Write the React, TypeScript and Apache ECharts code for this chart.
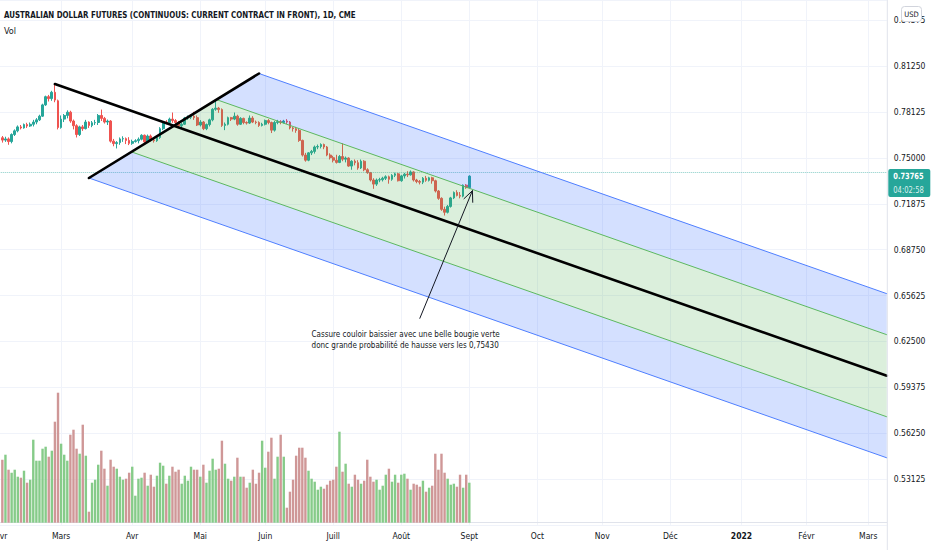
import React, { useEffect, useRef } from 'react';
import * as echarts from 'echarts';

const FONT = "'Liberation Sans Narrow', 'DejaVu Sans Condensed', 'Arial Narrow', Roboto, sans-serif";
const TEXT = '#131722';
const UP = '#26a69a';
const DOWN = '#ef5350';
const VOL_UP = '#86cb89';
const VOL_DOWN = '#cf9797';

const title = 'AUSTRALIAN DOLLAR FUTURES (CONTINUOUS: CURRENT CONTRACT IN FRONT), 1D, CME';
const firstSession = '2021-02-01';
const lastSession = '2022-03-09';
const firstCandle = '2021-02-02';
const monthLabels = ['Janv', 'Févr', 'Mars', 'Avr', 'Mai', 'Juin', 'Juill', 'Août', 'Sept', 'Oct', 'Nov', 'Déc'];

const priceMin = 0.5;
const priceMax = 0.85769;
const priceStep = 0.03125;
const lastPrice = 0.73765;
const countdown = '04:02:58';
const volumeMax = 140;

// Andrews' pitchfork anchors (date, price)
const pitchforkHandle: [string, number] = ['2021-02-25', 0.80044];
const pitchforkTop: [string, number] = ['2021-05-28', 0.80759];
const pitchforkBottom: [string, number] = ['2021-03-12', 0.73637];
// annotation
const arrowFrom: [string, number] = ['2021-08-10', 0.64074];
const arrowTo: [string, number] = ['2021-09-02', 0.72771];
const noteAnchor: [string, number] = ['2021-06-22', 0.63359];
const noteLines = [
  'Cassure couloir baissier avec une belle bougie verte',
  'donc grande probabilité de hausse vers les 0,75430',
];

// [open, close, low, high], daily from 2021-02-02
const ohlc: number[][] = [
  [0.7638, 0.7622, 0.7605, 0.7650], [0.7622, 0.7630, 0.7610, 0.7645], [0.7630, 0.7612, 0.7590, 0.7640],
  [0.7612, 0.7660, 0.7600, 0.7668], [0.7660, 0.7685, 0.7650, 0.7695], [0.7685, 0.7712, 0.7675, 0.7722],
  [0.7712, 0.7705, 0.7695, 0.7725], [0.7705, 0.7728, 0.7700, 0.7735], [0.7728, 0.7718, 0.7705, 0.7740],
  [0.7718, 0.7730, 0.7712, 0.7742], [0.7730, 0.7745, 0.7715, 0.7760], [0.7745, 0.7760, 0.7730, 0.7772],
  [0.7760, 0.7785, 0.7752, 0.7795], [0.7785, 0.7862, 0.7780, 0.7870], [0.7862, 0.7918, 0.7855, 0.7925],
  [0.7918, 0.7905, 0.7885, 0.7930], [0.7905, 0.7948, 0.7890, 0.7958], [0.7948, 0.7895, 0.7880, 0.8002],
  [0.7890, 0.7708, 0.7695, 0.7898], [0.7708, 0.7765, 0.7700, 0.7790], [0.7765, 0.7790, 0.7745, 0.7800],
  [0.7790, 0.7812, 0.7770, 0.7825], [0.7812, 0.7752, 0.7740, 0.7822], [0.7752, 0.7720, 0.7695, 0.7762],
  [0.7720, 0.7660, 0.7640, 0.7730], [0.7660, 0.7712, 0.7650, 0.7720], [0.7712, 0.7700, 0.7685, 0.7725],
  [0.7700, 0.7745, 0.7695, 0.7760], [0.7745, 0.7722, 0.7705, 0.7750], [0.7722, 0.7740, 0.7710, 0.7752],
  [0.7740, 0.7742, 0.7725, 0.7760], [0.7742, 0.7790, 0.7725, 0.7800], [0.7790, 0.7770, 0.7752, 0.7830],
  [0.7770, 0.7745, 0.7735, 0.7780], [0.7745, 0.7752, 0.7725, 0.7762], [0.7752, 0.7615, 0.7605, 0.7758],
  [0.7615, 0.7598, 0.7580, 0.7630], [0.7598, 0.7605, 0.7565, 0.7615], [0.7605, 0.7630, 0.7590, 0.7640],
  [0.7630, 0.7632, 0.7610, 0.7648], [0.7632, 0.7620, 0.7595, 0.7640], [0.7620, 0.7600, 0.7588, 0.7642],
  [0.7600, 0.7612, 0.7590, 0.7625], [0.7612, 0.7618, 0.7605, 0.7628], [0.7618, 0.7628, 0.7600, 0.7640],
  [0.7628, 0.7655, 0.7620, 0.7662], [0.7655, 0.7610, 0.7600, 0.7660], [0.7610, 0.7650, 0.7605, 0.7660],
  [0.7650, 0.7622, 0.7612, 0.7660], [0.7622, 0.7618, 0.7605, 0.7635], [0.7618, 0.7640, 0.7610, 0.7650],
  [0.7640, 0.7700, 0.7630, 0.7710], [0.7700, 0.7745, 0.7690, 0.7752], [0.7745, 0.7742, 0.7730, 0.7758],
  [0.7742, 0.7765, 0.7732, 0.7775], [0.7765, 0.7755, 0.7740, 0.7810], [0.7755, 0.7742, 0.7730, 0.7765],
  [0.7742, 0.7720, 0.7710, 0.7752], [0.7720, 0.7730, 0.7705, 0.7740], [0.7730, 0.7772, 0.7725, 0.7780],
  [0.7772, 0.7778, 0.7760, 0.7790], [0.7778, 0.7785, 0.7765, 0.7795], [0.7785, 0.7775, 0.7760, 0.7815],
  [0.7775, 0.7725, 0.7718, 0.7790], [0.7725, 0.7745, 0.7715, 0.7758], [0.7745, 0.7700, 0.7690, 0.7752],
  [0.7700, 0.7728, 0.7690, 0.7735], [0.7728, 0.7760, 0.7715, 0.7768], [0.7760, 0.7832, 0.7750, 0.7840],
  [0.7832, 0.7840, 0.7822, 0.7890], [0.7840, 0.7830, 0.7808, 0.7848], [0.7830, 0.7722, 0.7712, 0.7838],
  [0.7722, 0.7730, 0.7690, 0.7742], [0.7730, 0.7775, 0.7722, 0.7782], [0.7775, 0.7765, 0.7752, 0.7780],
  [0.7765, 0.7785, 0.7758, 0.7810], [0.7785, 0.7730, 0.7720, 0.7795], [0.7730, 0.7770, 0.7725, 0.7778],
  [0.7770, 0.7742, 0.7730, 0.7775], [0.7742, 0.7738, 0.7728, 0.7750], [0.7738, 0.7772, 0.7732, 0.7790],
  [0.7772, 0.7745, 0.7738, 0.7785], [0.7745, 0.7742, 0.7730, 0.7755], [0.7742, 0.7722, 0.7712, 0.7750],
  [0.7722, 0.7730, 0.7715, 0.7740], [0.7730, 0.7755, 0.7722, 0.7762], [0.7755, 0.7742, 0.7730, 0.7765],
  [0.7742, 0.7690, 0.7670, 0.7748], [0.7690, 0.7742, 0.7680, 0.7752], [0.7742, 0.7748, 0.7730, 0.7760],
  [0.7748, 0.7742, 0.7730, 0.7758], [0.7742, 0.7752, 0.7735, 0.7760], [0.7752, 0.7745, 0.7732, 0.7765],
  [0.7745, 0.7705, 0.7695, 0.7752], [0.7705, 0.7700, 0.7680, 0.7712], [0.7700, 0.7688, 0.7672, 0.7712],
  [0.7688, 0.7620, 0.7610, 0.7700], [0.7620, 0.7520, 0.7510, 0.7625], [0.7520, 0.7485, 0.7475, 0.7535],
  [0.7485, 0.7535, 0.7478, 0.7540], [0.7535, 0.7545, 0.7520, 0.7555], [0.7545, 0.7575, 0.7530, 0.7585],
  [0.7575, 0.7578, 0.7560, 0.7592], [0.7578, 0.7592, 0.7565, 0.7600], [0.7592, 0.7575, 0.7560, 0.7598],
  [0.7575, 0.7520, 0.7512, 0.7582], [0.7520, 0.7502, 0.7490, 0.7532], [0.7502, 0.7485, 0.7470, 0.7515],
  [0.7485, 0.7470, 0.7462, 0.7522], [0.7470, 0.7510, 0.7465, 0.7520], [0.7510, 0.7492, 0.7478, 0.7600],
  [0.7492, 0.7500, 0.7470, 0.7510], [0.7500, 0.7445, 0.7440, 0.7505], [0.7445, 0.7478, 0.7420, 0.7485],
  [0.7478, 0.7468, 0.7450, 0.7490], [0.7468, 0.7432, 0.7420, 0.7485], [0.7432, 0.7478, 0.7425, 0.7490],
  [0.7478, 0.7420, 0.7410, 0.7485], [0.7420, 0.7400, 0.7392, 0.7430], [0.7400, 0.7350, 0.7340, 0.7405],
  [0.7350, 0.7322, 0.7290, 0.7362], [0.7322, 0.7350, 0.7310, 0.7360], [0.7350, 0.7352, 0.7335, 0.7365],
  [0.7352, 0.7362, 0.7340, 0.7372], [0.7362, 0.7372, 0.7350, 0.7382], [0.7372, 0.7355, 0.7325, 0.7380],
  [0.7355, 0.7382, 0.7345, 0.7390], [0.7382, 0.7392, 0.7370, 0.7400], [0.7392, 0.7345, 0.7340, 0.7398],
  [0.7345, 0.7378, 0.7338, 0.7385], [0.7378, 0.7390, 0.7360, 0.7398], [0.7390, 0.7385, 0.7370, 0.7410],
  [0.7385, 0.7405, 0.7380, 0.7415], [0.7405, 0.7350, 0.7340, 0.7410], [0.7350, 0.7340, 0.7328, 0.7358],
  [0.7340, 0.7335, 0.7320, 0.7350], [0.7335, 0.7362, 0.7322, 0.7370], [0.7362, 0.7348, 0.7338, 0.7378],
  [0.7348, 0.7365, 0.7340, 0.7372], [0.7365, 0.7345, 0.7325, 0.7372], [0.7345, 0.7275, 0.7265, 0.7352],
  [0.7275, 0.7225, 0.7215, 0.7282], [0.7225, 0.7150, 0.7140, 0.7232], [0.7150, 0.7130, 0.7108, 0.7168],
  [0.7130, 0.7170, 0.7122, 0.7180], [0.7170, 0.7228, 0.7162, 0.7235], [0.7228, 0.7265, 0.7220, 0.7272],
  [0.7265, 0.7245, 0.7238, 0.7280], [0.7245, 0.7240, 0.7225, 0.7268], [0.7240, 0.7315, 0.7232, 0.7320],
  [0.7315, 0.7298, 0.7290, 0.7322], [0.7298, 0.73765, 0.7295, 0.7382],
];

// daily volume (relative units), from 2021-02-02
const volume: number[] = [
  63, 68, 53, 50, 53, 46, 45, 52, 40, 43,
  83, 62, 62, 74, 76, 66, 72, 101, 130, 79,
  68, 62, 88, 93, 74, 69, 98, 67, 11, 40,
  43, 58, 72, 54, 37, 63, 56, 54, 46, 43,
  44, 50, 56, 27, 44, 45, 50, 37, 48, 36, 47,
  60, 57, 39, 47, 56, 51, 53, 39, 47, 42,
  56, 53, 53, 46, 58, 40, 52, 64, 53, 54,
  82, 59, 44, 42, 46, 65, 46, 46, 35, 40,
  53, 39, 50, 82, 55, 71, 85, 44, 66, 88,
  66, 15, 31, 43, 67, 75, 75, 65, 52, 44, 41,
  33, 36, 34, 38, 42, 43, 56, 91, 51, 59,
  39, 36, 48, 43, 39, 42, 63, 46, 41, 43,
  33, 37, 48, 54, 41, 48, 40, 48, 49, 44, 33,
  39, 38, 36, 42, 31, 35, 37, 69, 53, 69,
  50, 44, 38, 39, 36, 48, 35, 48, 40,
];

function buildSessions(from: string, to: string): string[] {
  const out: string[] = [];
  const d = new Date(from + 'T00:00:00Z');
  const end = new Date(to + 'T00:00:00Z');
  while (d.getTime() <= end.getTime()) {
    const w = d.getUTCDay();
    if (w !== 0 && w !== 6) out.push(d.toISOString().slice(0, 10));
    d.setUTCDate(d.getUTCDate() + 1);
  }
  return out;
}

const sessions = buildSessions(firstSession, lastSession);
const tickLabel: Record<string, string> = {};
sessions.forEach((d, i) => {
  if (i === 0 || d.slice(5, 7) !== sessions[i - 1].slice(5, 7)) {
    const m = Number(d.slice(5, 7)) - 1;
    tickLabel[d] = m === 0 ? `{y|${d.slice(0, 4)}}` : monthLabels[m];
  }
});
const candleOffset = sessions.indexOf(firstCandle);
const candleData = sessions.map((_, i) => {
  const k = i - candleOffset;
  return k >= 0 && k < ohlc.length ? ohlc[k] : ['-', '-', '-', '-'];
});
const volumeData = sessions.map((_, i) => {
  const k = i - candleOffset;
  if (k < 0 || k >= volume.length) return '-';
  const up = ohlc[k][1] >= ohlc[k][0];
  return { value: volume[k], itemStyle: { color: up ? VOL_UP : VOL_DOWN } };
});

const GRID_LEFT = -0.74;
const GRID_RIGHT = 45.2;
const W = 932;
const H = 550;
const AXIS_FONT = 8.5;

function renderDrawings(params: any, api: any) {
  const cs = params.coordSys;
  const xR = cs.x + cs.width;
  const pt = (a: [string, number]) => api.coord([sessions.indexOf(a[0]), a[1]]);
  const p1 = pt(pitchforkHandle);
  const p2 = pt(pitchforkTop);
  const p3 = pt(pitchforkBottom);
  const m = [(p2[0] + p3[0]) / 2, (p2[1] + p3[1]) / 2];
  const s = (m[1] - p1[1]) / (m[0] - p1[0]);
  const q2 = [(m[0] + p2[0]) / 2, (m[1] + p2[1]) / 2];
  const q3 = [(m[0] + p3[0]) / 2, (m[1] + p3[1]) / 2];
  const ext = (p: number[]) => [xR, p[1] + s * (xR - p[0])];
  const line = (a: number[], b: number[], stroke: string, lineWidth: number) => ({
    type: 'line',
    shape: { x1: a[0], y1: a[1], x2: b[0], y2: b[1] },
    style: { stroke, lineWidth, lineCap: 'round' },
  });
  const poly = (points: number[][], fill: string) => ({ type: 'polygon', shape: { points }, style: { fill } });

  const a0 = pt(arrowFrom);
  const a1 = pt(arrowTo);
  const dx = a1[0] - a0[0];
  const dy = a1[1] - a0[1];
  const len = Math.sqrt(dx * dx + dy * dy);
  const ux = -dx / len;
  const uy = -dy / len;
  const ang = 0.42;
  const wl = 12;
  const wing = (sgn: number) => [
    a1[0] + wl * (ux * Math.cos(sgn * ang) - uy * Math.sin(sgn * ang)),
    a1[1] + wl * (ux * Math.sin(sgn * ang) + uy * Math.cos(sgn * ang)),
  ];
  const note = pt(noteAnchor);
  const yp = api.coord([0, lastPrice])[1];

  return {
    type: 'group',
    children: [
      poly([p2, ext(p2), ext(q2), q2], 'rgba(41,98,255,0.2)'),
      poly([q2, ext(q2), ext(q3), q3], 'rgba(76,175,80,0.2)'),
      poly([q3, ext(q3), ext(p3), p3], 'rgba(41,98,255,0.2)'),
      line(p2, ext(p2), '#4f7fff', 1),
      line(p3, ext(p3), '#4f7fff', 1),
      line(q2, ext(q2), '#5cb860', 1),
      line(q3, ext(q3), '#5cb860', 1),
      line(p1, ext(p1), '#000000', 2.6),
      line(p2, p3, '#000000', 2.6),
      line(a0, a1, TEXT, 1),
      { type: 'polyline', shape: { points: [wing(1), a1, wing(-1)] }, style: { stroke: TEXT, lineWidth: 1, fill: 'none' } },
      {
        type: 'text',
        x: note[0],
        y: note[1],
        scaleX: 0.89,
        style: { text: noteLines.join('\n'), fill: TEXT, font: `9px ${FONT}`, lineHeight: 11, align: 'left', verticalAlign: 'top' },
      },
      { type: 'rect', shape: { x: xR + 1.5, y: yp - 7, width: 42, height: 28, r: 2 }, style: { fill: UP } },
      {
        type: 'text', x: xR + 6.5, y: yp + 0.5, scaleX: 0.87,
        style: { text: lastPrice.toFixed(5), fill: '#ffffff', font: `bold 8.5px ${FONT}`, align: 'left', verticalAlign: 'middle' },
      },
      {
        type: 'text', x: xR + 6.5, y: yp + 14, scaleX: 0.89,
        style: { text: countdown, fill: 'rgba(255,255,255,0.85)', font: `8.5px ${FONT}`, align: 'left', verticalAlign: 'middle' },
      },
    ],
  };
}

export default function App() {
  const ref = useRef<HTMLDivElement>(null);
  useEffect(() => {
    document.body.style.margin = '0';
    if (!ref.current) return;
    const chart = echarts.init(ref.current, undefined, { renderer: 'svg' });
    const plotRight = W - GRID_RIGHT;
    chart.setOption({
      animation: false,
      backgroundColor: '#ffffff',
      textStyle: { fontFamily: FONT },
      grid: [
        { left: GRID_LEFT, right: GRID_RIGHT, top: 0, bottom: 25.2, containLabel: false, outerBoundsMode: 'none' },
        { left: GRID_LEFT, right: GRID_RIGHT, bottom: 27.3, height: 140, containLabel: false, outerBoundsMode: 'none' },
      ],
      xAxis: [
        {
          type: 'category', gridIndex: 0, data: sessions, boundaryGap: false,
          axisLine: { show: false }, axisTick: { show: false }, axisLabel: { show: false },
          splitLine: { show: true, interval: (_i: number, v: string) => v in tickLabel, lineStyle: { color: '#f0f3fa', width: 1 } },
        },
        {
          type: 'category', gridIndex: 1, data: sessions, boundaryGap: false,
          axisLine: { show: true, lineStyle: { color: '#e0e3eb', width: 1 } },
          axisTick: { show: false },
          axisLabel: {
            interval: (_i: number, v: string) => v in tickLabel,
            formatter: (v: string) => tickLabel[v] ?? '',
            color: TEXT, fontSize: AXIS_FONT, fontFamily: FONT, margin: 9,
            rich: { y: { fontWeight: 'bold', fontSize: AXIS_FONT, fontFamily: FONT, color: TEXT } },
          },
          splitLine: { show: false },
        },
      ],
      yAxis: [
        {
          type: 'value', gridIndex: 0, position: 'right', min: priceMin, max: priceMax, interval: priceStep,
          axisLine: { show: false }, axisTick: { show: false },
          axisLabel: {
            showMinLabel: false, showMaxLabel: false,
            formatter: (v: number) => v.toFixed(5),
            color: TEXT, fontSize: AXIS_FONT, fontFamily: FONT, margin: 7,
          },
          splitLine: { show: true, lineStyle: { color: '#f0f3fa', width: 1 } },
        },
        { type: 'value', gridIndex: 1, min: 0, max: volumeMax, show: false, splitLine: { show: false } },
      ],
      series: [
        {
          type: 'bar', xAxisIndex: 1, yAxisIndex: 1, data: volumeData, barWidth: 2.4, z: 1, silent: true,
        },
        {
          type: 'candlestick', xAxisIndex: 0, yAxisIndex: 0, data: candleData, barWidth: 2.2, z: 2, silent: true,
          itemStyle: { color: UP, color0: DOWN, borderColor: UP, borderColor0: DOWN, borderWidth: 1 },
          markLine: {
            silent: true, symbol: ['none', 'none'], label: { show: false },
            lineStyle: { color: UP, type: 'dotted', width: 1, opacity: 0.55 },
            data: [{ yAxis: lastPrice }],
          },
        },
        {
          type: 'custom', xAxisIndex: 0, yAxisIndex: 0, data: [[0, lastPrice]], renderItem: renderDrawings, z: 5, silent: true,
        },
      ],
      graphic: [
        { type: 'text', x: 4, y: 15, z: 100, scaleX: 0.873, style: { text: title, font: `bold 9px ${FONT}`, fill: TEXT, verticalAlign: 'middle' } },
        { type: 'text', x: 4, y: 31, z: 100, style: { text: 'Vol', font: `9px ${FONT}`, fill: TEXT, verticalAlign: 'middle' } },
        { type: 'line', z: 100, shape: { x1: plotRight + 0.5, y1: 0, x2: plotRight + 0.5, y2: H }, style: { stroke: '#e0e3eb', lineWidth: 1 } },
        { type: 'rect', z: 100, shape: { x: 901.5, y: 6.5, width: 20, height: 15, r: 3 }, style: { fill: '#ffffff', stroke: '#d1d4dc', lineWidth: 1 } },
        { type: 'text', x: 911.5, y: 14, z: 101, style: { text: 'USD', font: `7.5px ${FONT}`, fill: TEXT, align: 'center', verticalAlign: 'middle' } },
      ],
    });
    return () => chart.dispose();
  }, []);
  return <div ref={ref} style={{ width: W, height: H }} />;
}
